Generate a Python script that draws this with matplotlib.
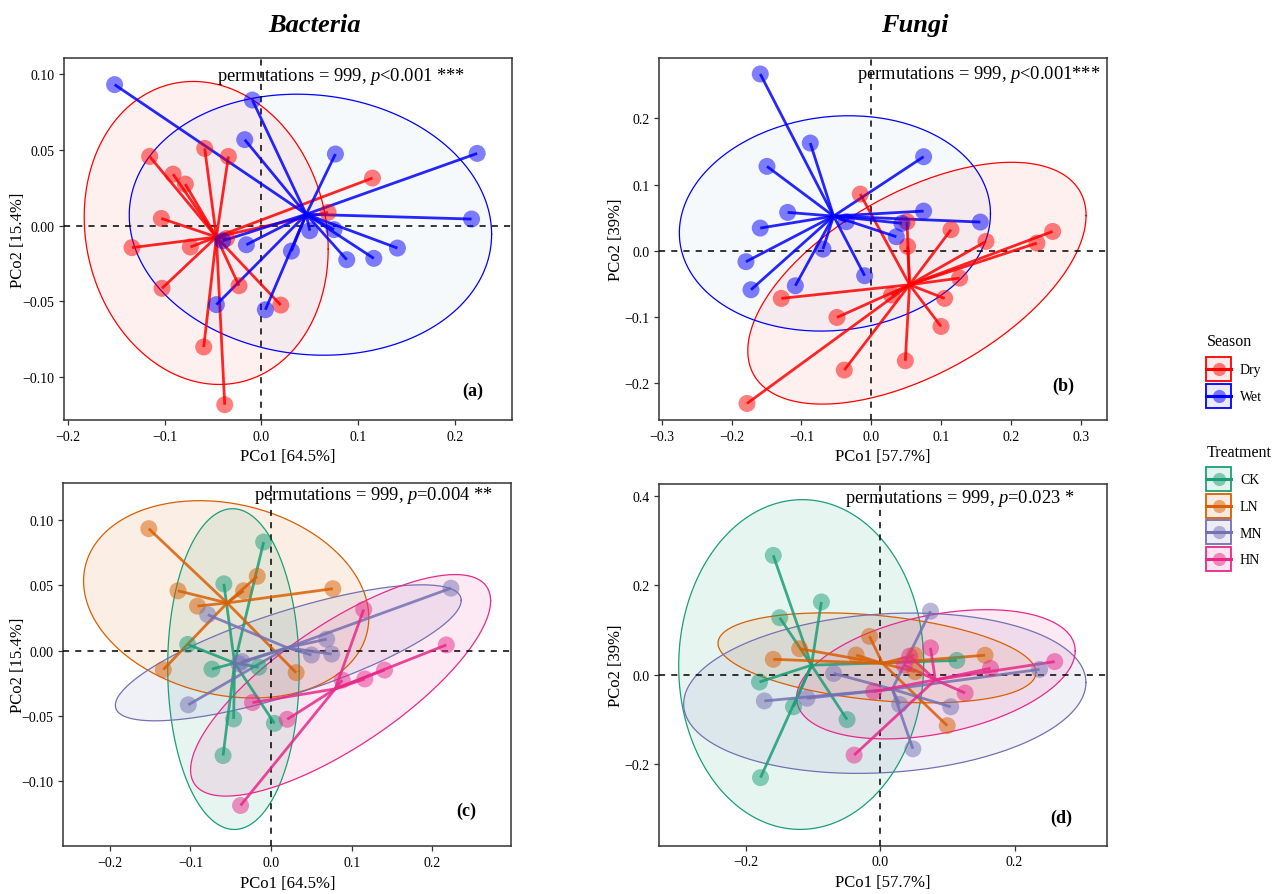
import numpy as np
import matplotlib.pyplot as plt
from matplotlib.patches import Patch
from matplotlib.lines import Line2D
from matplotlib.legend_handler import HandlerTuple, HandlerLine2D
from matplotlib.ticker import FuncFormatter
from matplotlib.colors import to_rgba

plt.rcParams['font.family'] = ['Liberation Serif', 'DejaVu Serif']
plt.rcParams['mathtext.fontset'] = 'custom'
plt.rcParams['mathtext.rm'] = 'Liberation Serif'
plt.rcParams['mathtext.it'] = 'Liberation Serif:italic'
plt.rcParams['mathtext.bf'] = 'Liberation Serif:bold'

# sample design: CK, LN, MN, HN, each 4 dry + 4 wet
sample_treatment = ["CK", "CK", "CK", "CK", "CK", "CK", "CK", "CK",
                    "LN", "LN", "LN", "LN", "LN", "LN", "LN", "LN",
                    "MN", "MN", "MN", "MN", "MN", "MN", "MN", "MN",
                    "HN", "HN", "HN", "HN", "HN", "HN", "HN", "HN"]
sample_season = ["Dry", "Dry", "Dry", "Dry", "Wet", "Wet", "Wet", "Wet",
                 "Dry", "Dry", "Dry", "Dry", "Wet", "Wet", "Wet", "Wet",
                 "Dry", "Dry", "Dry", "Dry", "Wet", "Wet", "Wet", "Wet",
                 "Dry", "Dry", "Dry", "Dry", "Wet", "Wet", "Wet", "Wet"]

# bacteria PCoA scores
bac_pco1 = [-0.0586, -0.1034, -0.0734, -0.0596, -0.0093, -0.0155, -0.0465, 0.0041,
            -0.1155, -0.0913, -0.0341, -0.1337, -0.1517, -0.0172, 0.0765, 0.0310,
            -0.0786, -0.0360, -0.1027, 0.0689, 0.2230, 0.0500, 0.0751, -0.0400,
            -0.0231, 0.0200, -0.0379, 0.1148, 0.2172, 0.1406, 0.1162, 0.0882]
bac_pco2 = [0.0511, 0.0048, -0.0141, -0.0802, 0.0831, -0.0126, -0.0522, -0.0556,
            0.0458, 0.0341, 0.0458, -0.0145, 0.0933, 0.0569, 0.0474, -0.0168,
            0.0275, -0.0084, -0.0414, 0.0088, 0.0478, -0.0033, -0.0026, -0.0100,
            -0.0397, -0.0525, -0.1184, 0.0315, 0.0044, -0.0148, -0.0216, -0.0225]

# fungi PCoA scores
fun_pco1 = [0.1141, -0.0492, -0.1289, -0.1780, -0.1590, -0.0874, -0.1494, -0.1795,
            -0.0158, 0.0511, 0.0520, 0.0998, -0.1198, -0.1590, 0.1561, -0.0358,
            0.2372, 0.1050, 0.0487, 0.0290, 0.0749, -0.0692, -0.1723, -0.1088,
            0.1642, 0.2597, 0.1265, -0.0387, 0.0749, 0.0439, 0.0358, -0.0095]
fun_pco2 = [0.0318, -0.1009, -0.0721, -0.2310, 0.2673, 0.1629, 0.1276, -0.0166,
            0.0857, 0.0439, 0.0066, -0.1145, 0.0580, 0.0343, 0.0434, 0.0439,
            0.0116, -0.0721, -0.1664, -0.0670, 0.1422, 0.0025, -0.0590, -0.0530,
            0.0141, 0.0292, -0.0414, -0.1805, 0.0600, 0.0414, 0.0212, -0.0378]

seasons = ["Dry", "Wet"]
treatments = ["CK", "LN", "MN", "HN"]
season_colors = {"Dry": "#FF0000", "Wet": "#0000FF"}
season_fills = {"Dry": "#FF0000", "Wet": "#5FA8D3"}
treat_colors = {"CK": "#1B9E77", "LN": "#D95F02", "MN": "#7570B3", "HN": "#E7298A"}


def cov_trob(pts, nu=5, maxit=25, tol=0.01):
    # multivariate t covariance (same as MASS::cov.trob)
    n, p = pts.shape
    loc = pts.mean(axis=0)
    w = np.ones(n)
    for _ in range(maxit):
        w0 = w
        X = pts - loc
        _, d, vt = np.linalg.svd(np.sqrt(w / w.sum())[:, None] * X, full_matrices=False)
        wX = X @ vt.T @ np.diag(1 / d)
        Q = (wX ** 2).sum(axis=1)
        w = (nu + p) / (nu + Q)
        loc = (w[:, None] * pts).sum(axis=0) / w.sum()
        if np.all(np.abs(w - w0) < tol):
            break
    sX = np.sqrt(w)[:, None] * X
    return loc, sX.T @ sX / n


def t_ellipse(pts, level=0.9):
    loc, cov = cov_trob(pts)
    dfd = len(pts) - 1
    fq = dfd / 2 * ((1 - level) ** (-2 / dfd) - 1)
    radius = np.sqrt(2 * fq)
    chol = np.linalg.cholesky(cov).T
    ang = np.linspace(0, 2 * np.pi, 200)
    circle = np.column_stack([np.cos(ang), np.sin(ang)])
    return loc + radius * circle @ chol


def minus_fmt(fmt):
    return FuncFormatter(lambda v, pos: (fmt % (0.0 if abs(v) < 1e-9 else v)).replace("-", "\u2212"))


def draw_panel(ax, x, y, groups, levels, colors, fills, fill_alpha):
    x = np.array(x)
    y = np.array(y)
    groups = np.array(groups)
    for g in levels:
        pts = np.column_stack([x[groups == g], y[groups == g]])
        e = t_ellipse(pts)
        ax.fill(e[:, 0], e[:, 1], color=fills[g], alpha=fill_alpha, lw=0, zorder=1)
        ax.plot(e[:, 0], e[:, 1], color=colors[g], lw=0.9, zorder=2)
    ax.axhline(0, color="black", ls=(0, (4, 4)), lw=1.1, zorder=3)
    ax.axvline(0, color="black", ls=(0, (4, 4)), lw=1.1, zorder=3)
    for g in levels:
        gx = x[groups == g]
        gy = y[groups == g]
        cx, cy = gx.mean(), gy.mean()
        for px, py in zip(gx, gy):
            ax.plot([cx, px], [cy, py], color=colors[g], lw=2, alpha=0.85,
                    solid_capstyle="butt", zorder=4)
    for g in levels:
        ax.scatter(x[groups == g], y[groups == g], s=150, color=colors[g],
                   alpha=0.5, edgecolors="none", zorder=5)
    for sp in ax.spines.values():
        sp.set_color("#333333")
        sp.set_linewidth(1.1)
    ax.tick_params(colors="#333333", labelcolor="black", labelsize=10, length=3.5, width=0.9)


fig = plt.figure(figsize=(12.85, 8.95), dpi=100)

ax_a = fig.add_axes([64 / 1285, 1 - 421 / 895, 448 / 1285, 362 / 895])
ax_b = fig.add_axes([659 / 1285, 1 - 421 / 895, 448 / 1285, 362 / 895])
ax_c = fig.add_axes([63.3 / 1285, 1 - 847.3 / 895, 448 / 1285, 363 / 895])
ax_d = fig.add_axes([659 / 1285, 1 - 846.7 / 895, 448 / 1285, 362 / 895])

# (a) bacteria by season
draw_panel(ax_a, bac_pco1, bac_pco2, sample_season, seasons, season_colors, season_fills, 0.06)
ax_a.set_xlim(-0.204, 0.259)
ax_a.set_ylim(-0.1285, 0.1109)
ax_a.set_xticks([-0.2, -0.1, 0.0, 0.1, 0.2])
ax_a.set_yticks([-0.10, -0.05, 0.00, 0.05, 0.10])
ax_a.xaxis.set_major_formatter(minus_fmt("%.1f"))
ax_a.yaxis.set_major_formatter(minus_fmt("%.2f"))
ax_a.set_xlabel("PCo1 [64.5%]", fontsize=12)
ax_a.set_ylabel("PCo2 [15.4%]", fontsize=12, labelpad=-3)
ax_a.text(0.341, 0.951, r"permutations = 999, $\mathit{p}$<0.001 ***", transform=ax_a.transAxes,
          fontsize=13.3, ha="left", va="center")
ax_a.text(0.912, 0.081, "(a)", transform=ax_a.transAxes, fontsize=13, fontweight="bold",
          ha="center", va="center")

# (b) fungi by season
draw_panel(ax_b, fun_pco1, fun_pco2, sample_season, seasons, season_colors, season_fills, 0.06)
ax_b.set_xlim(-0.304, 0.3375)
ax_b.set_ylim(-0.256, 0.2915)
ax_b.set_xticks([-0.3, -0.2, -0.1, 0.0, 0.1, 0.2, 0.3])
ax_b.set_yticks([-0.2, -0.1, 0.0, 0.1, 0.2])
ax_b.xaxis.set_major_formatter(minus_fmt("%.1f"))
ax_b.yaxis.set_major_formatter(minus_fmt("%.1f"))
ax_b.set_xlabel("PCo1 [57.7%]", fontsize=12)
ax_b.set_ylabel("PCo2 [39%]", fontsize=12, labelpad=0)
ax_b.text(0.441, 0.958, r"permutations = 999, $\mathit{p}$<0.001***", transform=ax_b.transAxes,
          fontsize=13.3, ha="left", va="center")
ax_b.text(0.9025, 0.095, "(b)", transform=ax_b.transAxes, fontsize=13, fontweight="bold",
          ha="center", va="center")

# (c) bacteria by treatment
draw_panel(ax_c, bac_pco1, bac_pco2, sample_treatment, treatments, treat_colors, treat_colors, 0.1)
ax_c.set_xlim(-0.2577, 0.2978)
ax_c.set_ylim(-0.1496, 0.128)
ax_c.set_xticks([-0.2, -0.1, 0.0, 0.1, 0.2])
ax_c.set_yticks([-0.10, -0.05, 0.00, 0.05, 0.10])
ax_c.xaxis.set_major_formatter(minus_fmt("%.1f"))
ax_c.yaxis.set_major_formatter(minus_fmt("%.2f"))
ax_c.set_xlabel("PCo1 [64.5%]", fontsize=12)
ax_c.set_ylabel("PCo2 [15.4%]", fontsize=12, labelpad=-3)
ax_c.text(0.4257, 0.9705, r"permutations = 999, $\mathit{p}$=0.004 **", transform=ax_c.transAxes,
          fontsize=13.3, ha="left", va="center")
ax_c.text(0.899, 0.098, "(c)", transform=ax_c.transAxes, fontsize=13, fontweight="bold",
          ha="center", va="center")

# (d) fungi by treatment
draw_panel(ax_d, fun_pco1, fun_pco2, sample_treatment, treatments, treat_colors, treat_colors, 0.1)
ax_d.set_xlim(-0.329, 0.3375)
ax_d.set_ylim(-0.3836, 0.428)
ax_d.set_xticks([-0.2, 0.0, 0.2])
ax_d.set_yticks([-0.2, 0.0, 0.2, 0.4])
ax_d.xaxis.set_major_formatter(minus_fmt("%.1f"))
ax_d.yaxis.set_major_formatter(minus_fmt("%.1f"))
ax_d.set_xlabel("PCo1 [57.7%]", fontsize=12)
ax_d.set_ylabel("PCo2 [39%]", fontsize=12, labelpad=0)
ax_d.text(0.415, 0.963, r"permutations = 999, $\mathit{p}$=0.023 *", transform=ax_d.transAxes,
          fontsize=13.3, ha="left", va="center")
ax_d.text(0.897, 0.078, "(d)", transform=ax_d.transAxes, fontsize=13, fontweight="bold",
          ha="center", va="center")

# column titles
fig.text(315 / 1285, 1 - 32 / 895, "Bacteria", fontsize=19, fontweight="bold", fontstyle="italic",
         ha="center", va="baseline")
fig.text(915 / 1285, 1 - 32 / 895, "Fungi", fontsize=19, fontweight="bold", fontstyle="italic",
         ha="center", va="baseline")


class CenteredLine(HandlerLine2D):
    # put the line + point in the middle of the key box
    def create_artists(self, legend, orig_handle, xdescent, ydescent, width, height, fontsize, trans):
        return super().create_artists(legend, orig_handle, xdescent, ydescent, width,
                                      height - ydescent, fontsize, trans)


def key(c, fill_alpha):
    box = Patch(facecolor=to_rgba(c, fill_alpha), edgecolor=c, lw=1.3)
    mark = Line2D([], [], color=c, lw=2.2, marker="o", markersize=9.5,
                  markerfacecolor=to_rgba(c, 0.5), markeredgecolor="none")
    return (box, mark)


legend_style = dict(loc="upper left", frameon=False,
                    handler_map={tuple: HandlerTuple(ndivide=1, pad=0), Line2D: CenteredLine()},
                    handlelength=1.8, handleheight=2.28, labelspacing=0.19, handletextpad=0.65,
                    borderpad=0, borderaxespad=0, fontsize=10, numpoints=1)

fig.text(1207 / 1285, 1 - 342 / 895, "Season", fontsize=11.5, ha="left", va="center")
fig.legend([key(season_colors[s], 0.08) for s in seasons], seasons,
           bbox_to_anchor=(1206 / 1285, 1 - 358 / 895), **legend_style)
fig.text(1207 / 1285, 1 - 453 / 895, "Treatment", fontsize=11.5, ha="left", va="center")
fig.legend([key(treat_colors[t], 0.12) for t in treatments], treatments,
           bbox_to_anchor=(1206 / 1285, 1 - 468 / 895), **legend_style)

fig.savefig("out.png", dpi=100)
